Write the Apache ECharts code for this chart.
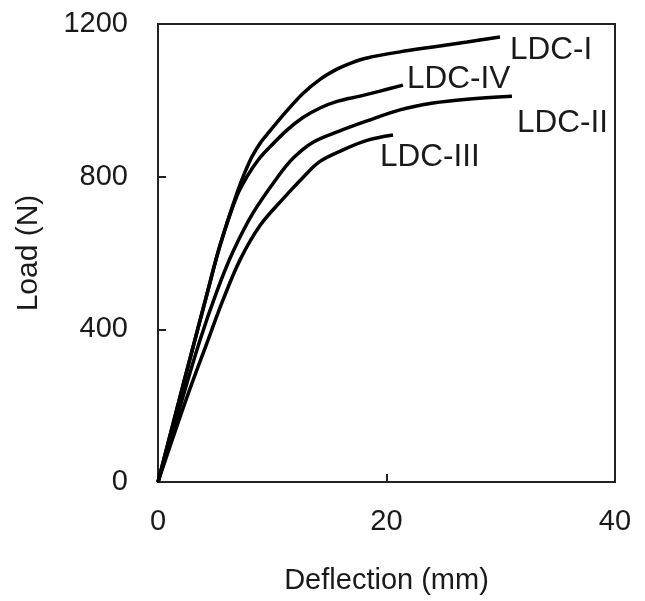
<!DOCTYPE html>
<html>
<head>
<meta charset="utf-8">
<script src="https://cdn.jsdelivr.net/npm/echarts@6/dist/echarts.min.js"></script>
<style>html,body{margin:0;padding:0;background:#fff}#c{width:645px;height:601px}</style>
</head>
<body>
<div id="c"></div>
<script>
// Deflection (mm) / Load (N)
const seriesNames = ['LDC-I', 'LDC-IV', 'LDC-II', 'LDC-III'];
const ldc1X = [0, 1.5, 3.0, 4.3, 5.43, 6.91, 8.05, 9.0, 9.8, 11.29, 12.69, 14.18, 15.75, 17.0, 18.29, 21.18, 24.07, 27.05, 29.93];
const ldc1Y = [0, 174, 346, 494, 620, 757, 842, 890, 920, 973, 1018, 1055, 1083, 1099, 1111, 1127, 1140, 1153, 1166];
const ldc4X = [0, 1.5, 3.0, 4.3, 5.43, 6.91, 7.79, 8.8, 9.8, 11.29, 12.69, 14.18, 15.75, 17.68, 19.43, 21.44];
const ldc4Y = [0, 174, 346, 494, 620, 750, 800, 845, 878, 922, 955, 980, 998, 1011, 1024, 1040];
const ldc2X = [0, 2.10, 3.68, 5.16, 6.56, 8.32, 10.50, 11.82, 13.57, 15.75, 18.29, 21.18, 24.07, 27.05, 30.98];
const ldc2Y = [0, 215, 372, 500, 603, 705, 800, 848, 890, 918, 946, 975, 993, 1003, 1011];
const ldc3X = [0, 2.45, 4.38, 5.69, 7.18, 8.93, 10.94, 12.69, 14.18, 16.19, 18.29, 20.57];
const ldc3Y = [0, 215, 372, 477, 582, 672, 742, 798, 840, 870, 895, 909];
const xTicks = [0, 20, 40];
const yTicks = [0, 400, 800, 1200];

const zip = (xs, ys) => xs.map((x, i) => [x, ys[i]]);
const dataSets = [zip(ldc1X, ldc1Y), zip(ldc4X, ldc4Y), zip(ldc2X, ldc2Y), zip(ldc3X, ldc3Y)];
const labelOffsets = [[10, 13], [4, -6], [5, 27], [-13, 22]];

const FONT = 'Liberation Sans, Arial, sans-serif';
const TXT = '#1a1a1a';
const chart = echarts.init(document.getElementById('c'), null, {renderer: 'canvas'});
chart.setOption({
  animation: false,
  backgroundColor: '#fff',
  grid: {left: 158, right: 30, top: 24, bottom: 119, show: true, borderColor: '#222', borderWidth: 2, containLabel: false},
  xAxis: {
    type: 'value', min: 0, max: 40, interval: 20,
    name: 'Deflection (mm)', nameLocation: 'middle', nameGap: 84,
    nameTextStyle: {fontFamily: FONT, fontSize: 29, color: TXT},
    axisLine: {show: true, lineStyle: {color: '#222', width: 2}},
    axisTick: {show: true, inside: true, length: 8, lineStyle: {color: '#222', width: 2}},
    axisLabel: {fontFamily: FONT, fontSize: 29, color: TXT, margin: 25,
      formatter: v => xTicks.includes(v) ? String(v) : ''},
    splitLine: {show: false}
  },
  yAxis: {
    type: 'value', min: 0, max: 1200, interval: 400,
    name: 'Load (N)', nameLocation: 'middle', nameGap: 114, nameRotate: 90,
    nameTextStyle: {fontFamily: FONT, fontSize: 30, color: TXT},
    axisLine: {show: true, lineStyle: {color: '#222', width: 2}},
    axisTick: {show: true, inside: true, length: 8, lineStyle: {color: '#222', width: 2}},
    axisLabel: {fontFamily: FONT, fontSize: 29, color: TXT, margin: 30,
      formatter: v => yTicks.includes(v) ? String(v) : ''},
    splitLine: {show: false}
  },
  series: seriesNames.map((name, i) => ({
    name: name, type: 'line', data: dataSets[i], smooth: 0.35,
    showSymbol: false, symbol: 'none',
    lineStyle: {color: '#000', width: 3.5},
    endLabel: {show: true, formatter: name, distance: 0, offset: labelOffsets[i],
      fontFamily: FONT, fontSize: 31.5, color: TXT},
    emphasis: {disabled: true}
  }))
});
</script>
</body>
</html>
